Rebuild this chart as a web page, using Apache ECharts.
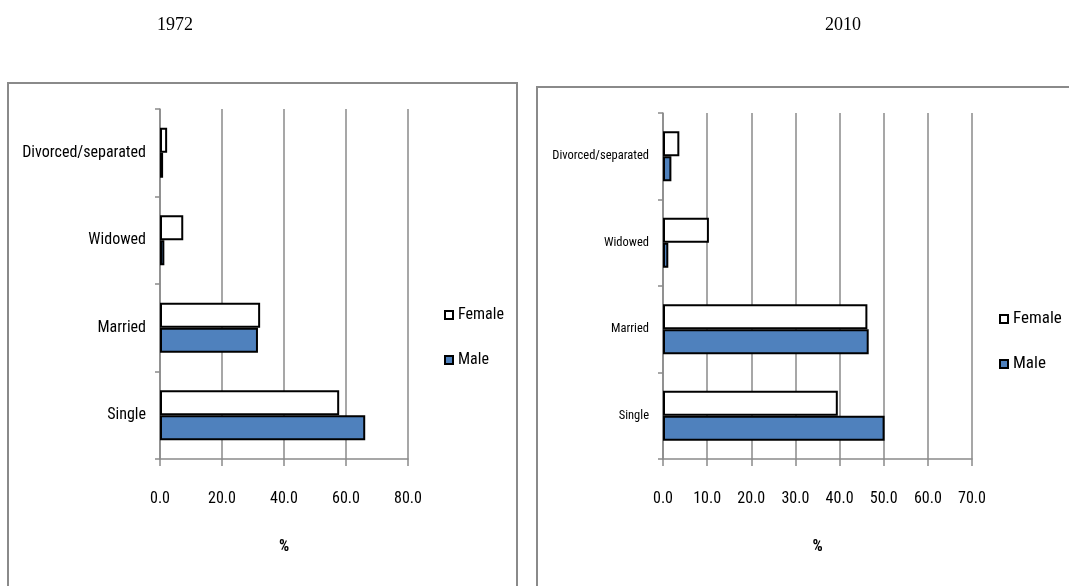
<!DOCTYPE html>
<html>
<head>
<meta charset="utf-8">
<script src="https://cdn.jsdelivr.net/npm/echarts@6/dist/echarts.min.js"></script>
<style>
html,body{margin:0;padding:0;background:#fff;}
#c{width:1069px;height:586px;}
</style>
</head>
<body>
<div id="c"></div>
<script>
var categories = ['Single', 'Married', 'Widowed', 'Divorced/separated'];
var female1972 = [57.8, 32.3, 7.5, 2.3];
var male1972 = [66.2, 31.6, 1.4, 1.0];
var female2010 = [39.6, 46.3, 10.4, 3.7];
var male2010 = [50.2, 46.6, 1.2, 1.9];
var titles = ['1972', '2010'];
var axisName = '%';

var NARROW = "'Liberation Sans Narrow', 'Arial Narrow', 'Roboto Condensed', sans-serif";
var GRAY = '#8a8a8a';
var maleColor = '#4F81BD';

function xAx(idx, max, interval) {
  return {
    type: 'value', gridIndex: idx, min: 0, max: max, interval: interval,
    name: axisName, nameLocation: 'middle', nameGap: 80,
    nameTextStyle: { fontFamily: NARROW, fontSize: 16, fontWeight: 'bold', color: '#000' },
    axisLine: { show: true, lineStyle: { color: GRAY, width: 1.5 } },
    axisTick: { show: true, length: 7, lineStyle: { color: GRAY, width: 1.5 } },
    splitLine: { show: true, lineStyle: { color: GRAY, width: 1.5 } },
    axisLabel: { margin: 32, fontFamily: NARROW, fontSize: 16, color: '#000',
      formatter: function (v) { return v.toFixed(1); } }
  };
}
function yAx(idx, fs) {
  return {
    type: 'category', gridIndex: idx, data: categories,
    axisLine: { show: true, lineStyle: { color: GRAY, width: 1.5 } },
    axisTick: { show: true, length: 5, lineStyle: { color: GRAY, width: 1.5 } },
    splitLine: { show: false },
    axisLabel: { margin: 14, fontFamily: NARROW, fontSize: fs, color: '#000' }
  };
}
function barS(name, data, idx, color) {
  return {
    name: name, type: 'bar', xAxisIndex: idx, yAxisIndex: idx, data: data,
    barWidth: 25, barGap: '0%',
    itemStyle: { color: color, borderColor: '#000', borderWidth: 2 },
    emphasis: { disabled: true }, animation: false
  };
}
function leg(left, top, fs) {
  return {
    data: ['Female', 'Male'], orient: 'vertical', left: left, top: top, padding: 0,
    itemWidth: 8, itemHeight: 8, itemGap: 27, icon: 'rect',
    textStyle: { fontFamily: NARROW, fontSize: fs, color: '#000', lineHeight: 18 },
    selectedMode: false
  };
}

var chart = echarts.init(document.getElementById('c'));
chart.setOption({
  animation: false,
  backgroundColor: '#fff',
  title: [
    { text: titles[0], left: 175, top: 16, textAlign: 'center', padding: 0,
      textStyle: { fontFamily: "'Liberation Serif', 'Times New Roman', serif", fontSize: 18, fontWeight: 'normal', color: '#000' } },
    { text: titles[1], left: 843, top: 16, textAlign: 'center', padding: 0,
      textStyle: { fontFamily: "'Liberation Serif', 'Times New Roman', serif", fontSize: 18, fontWeight: 'normal', color: '#000' } }
  ],
  graphic: [
    { type: 'rect', shape: { x: 8, y: 83, width: 509, height: 530 },
      style: { fill: 'none', stroke: GRAY, lineWidth: 2 }, z: -1 },
    { type: 'rect', shape: { x: 537, y: 87, width: 560, height: 530 },
      style: { fill: 'none', stroke: GRAY, lineWidth: 2 }, z: -1 }
  ],
  legend: [leg(444, 306, 16), leg(999, 310, 17)],
  grid: [
    { left: 160, right: 1069 - 408, top: 109, bottom: 586 - 459, containLabel: false },
    { left: 663, right: 1069 - 972, top: 113, bottom: 586 - 459, containLabel: false }
  ],
  xAxis: [xAx(0, 80, 20), xAx(1, 70, 10)],
  yAxis: [yAx(0, 16), yAx(1, 12.5)],
  series: [
    barS('Female', female1972, 0, '#fff'),
    barS('Male', male1972, 0, maleColor),
    barS('Female', female2010, 1, '#fff'),
    barS('Male', male2010, 1, maleColor)
  ]
});
</script>
</body>
</html>
